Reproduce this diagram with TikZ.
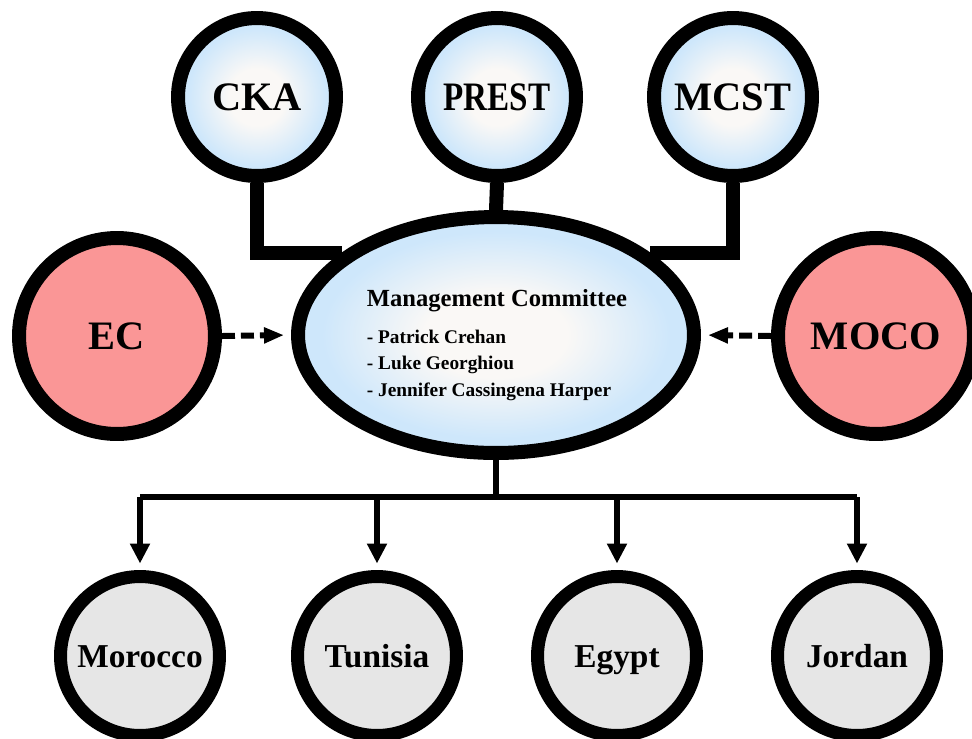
\documentclass[tikz,border=0pt]{standalone}
\usepackage{fontspec}
\setmainfont{Liberation Serif}
\usetikzlibrary{arrows.meta,shapes.geometric,backgrounds}

\definecolor{ringblue}{RGB}{166,202,240}
\definecolor{paleblue}{RGB}{206,231,251}
\definecolor{cream}{RGB}{250,248,246}
\definecolor{salmon}{RGB}{250,150,150}
\definecolor{lightgrey}{RGB}{230,230,230}
\pgfdeclareradialshading{bluedisc}{\pgfpoint{0bp}{0bp}}{color(0bp)=(cream); color(9bp)=(cream); color(22bp)=(paleblue); color(37bp)=(paleblue); color(41bp)=(ringblue); color(50bp)=(ringblue)}

\begin{document}
\begin{tikzpicture}[x=0.02cm, y=-0.02cm,
	top/.style={draw, circle, line width=0.28cm, shade, shading=bluedisc, minimum size=3.16cm, inner sep=0pt, text height=0.56cm, text depth=0.04cm, font=\bfseries\fontsize{23}{25}\selectfont},
	side/.style={draw, circle, line width=0.28cm, fill=salmon, minimum size=3.92cm, inner sep=0pt, text height=0.56cm, text depth=0.04cm, font=\bfseries\fontsize{23}{25}\selectfont},
	country/.style={draw, circle, line width=0.26cm, fill=lightgrey, minimum size=3.18cm, inner sep=0pt, text height=0.5cm, text depth=0.06cm, font=\bfseries\fontsize{19}{21}\selectfont},
	mc/.style={draw, ellipse, line width=0.28cm, shade, shading=bluedisc, minimum width=7.92cm, minimum height=4.72cm, inner sep=0pt},
	link/.style={line width=0.28cm},
	hint/.style={line width=0.12cm, dash pattern=on 0.26cm off 0.12cm, -{Triangle[length=0.4cm,width=0.3cm]}, shorten >=0.14cm},
	feed/.style={line width=0.12cm, -{Triangle[length=0.4cm,width=0.38cm]}, shorten >=0.13cm}]
	\useasboundingbox (0,0) rectangle (972,738);

	\node[top] (cka) at (257,97) {CKA};
	\node[top] (prest) at (497,97) {\scalebox{0.82}[1]{PREST}};
	\node[top] (mcst) at (733,97) {MCST};

	\node[mc] (mc) at (496,335) {};
	\node[align=left, inner sep=0pt, font=\bfseries] (members) at (497,345) {{\fontsize{14}{16}\selectfont Management Committee}\\[9pt]
		\fontsize{11}{13}\selectfont - Patrick Crehan\\[3pt]
		\fontsize{11}{13}\selectfont - Luke Georghiou\\[3pt]
		\fontsize{11}{13}\selectfont - Jennifer Cassingena Harper};

	\node[side] (ec) at (117,336) {EC};
	\node[side] (moco) at (876,336) {MOCO};

	\node[country] (morocco) at (140,656) {Morocco};
	\node[country] (tunisia) at (377,656) {Tunisia};
	\node[country] (egypt) at (617,656) {Egypt};
	\node[country] (jordan) at (857,656) {Jordan};

	\begin{scope}[on background layer]
		\draw[link] (cka.south) |- (mc.152);
		\draw[link] (prest.south) -- (mc.north);
		\draw[link] (mcst.south) |- (mc.28);
	\end{scope}

	\draw[hint] (ec.east) -- (mc.west);
	\draw[hint] (moco.west) -- (mc.east);

	\coordinate (bus) at (496,497);
	\draw[line width=0.12cm] (mc.south) -- (bus);
	\draw[line width=0.12cm] (morocco |- bus) -- (jordan |- bus);
	\foreach \c in {morocco,tunisia,egypt,jordan}
		\draw[feed] (\c |- bus) -- (\c.north);
\end{tikzpicture}
\end{document}
